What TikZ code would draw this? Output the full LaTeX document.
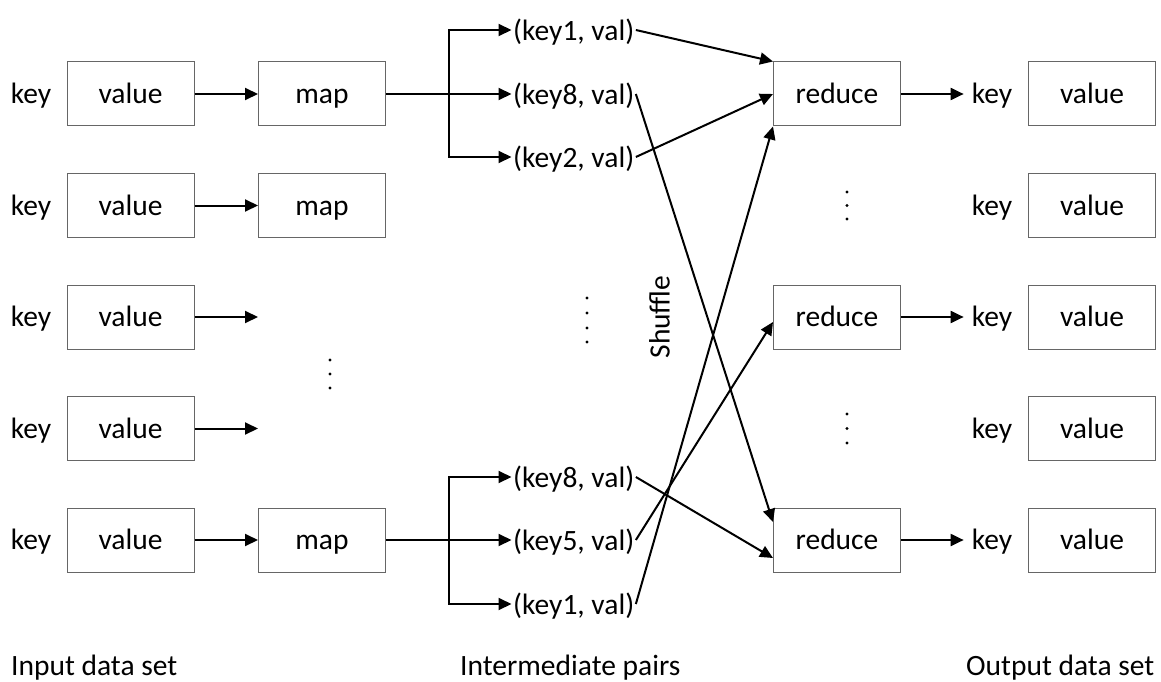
\documentclass[tikz,border=0pt]{standalone}
\usepackage{fontspec}
\setmainfont{Carlito}
\usetikzlibrary{arrows.meta,calc}
\begin{document}
\begin{tikzpicture}[x=1pt,y=-1pt,
  txt/.style={inner xsep=8pt, inner ysep=0pt, text height=19pt, text depth=0pt, font=\fontsize{29.5}{35}\selectfont},
  box/.style={draw=black!60, line width=1pt, minimum width=127pt, minimum height=64pt, inner sep=0pt,
              text height=19pt, text depth=0pt, font=\fontsize{29.5}{35}\selectfont},
  pair/.style={anchor=west, inner xsep=1.5pt, inner ysep=0pt, text height=21pt, text depth=0pt, font=\fontsize{29.5}{35}\selectfont},
  caption/.style={inner sep=0pt, anchor=base west, font=\fontsize{29.5}{35}\selectfont},
  ln/.style={line width=2pt, line join=miter},
  arr/.style={line width=2pt, line join=miter, -{Triangle[length=13pt,width=12pt]}},
  dot/.style={fill=black}
]
\useasboundingbox (0,0) rectangle (1161,682);

% input rows and output rows
\foreach \i/\y in {1/94,2/205.5,3/317,4/428.5,5/540}{
  \node[txt] (k\i) at (31,\y) {key};
  \node[box] (v\i) at (130.5,\y) {value};
  \node[txt] (ok\i) at (992,\y) {key};
  \node[box] (ov\i) at (1092,\y) {value};
}

% map boxes
\node[box] (m1) at (322,94) {map};
\node[box] (m2) at (322,205.5) {map};
\node[box] (m5) at (322,540) {map};

% free ends of rows 3 and 4
\coordinate (e3) at (258,317);
\coordinate (e4) at (258,428.5);

\draw[arr] (v1) -- (m1);
\draw[arr] (v2) -- (m2);
\draw[arr] (v3.east) -- (e3);
\draw[arr] (v4.east) -- (e4);
\draw[arr] (v5) -- (m5);

% intermediate pairs
\node[pair] (p11) at (511.5,30) {(key1, val)};
\node[pair] (p12) at (511.5,94) {(key8, val)};
\node[pair] (p13) at (511.5,157) {(key2, val)};
\node[pair] (p51) at (511.5,477) {(key8, val)};
\node[pair] (p52) at (511.5,540) {(key5, val)};
\node[pair] (p53) at (511.5,604) {(key1, val)};

\coordinate (b1) at (449,94);
\coordinate (b5) at (449,540);

\draw[arr] (m1.east) -- (b1) |- (p11.west);
\draw[arr] (m1.east) -- (p12.west);
\draw[arr] (b1) |- (p13.west);
\draw[arr] (m5.east) -- (b5) |- (p51.west);
\draw[arr] (m5.east) -- (p52.west);
\draw[arr] (b5) |- (p53.west);

% reduce boxes
\node[box] (r1) at (837,94) {reduce};
\node[box] (r3) at (837,317) {reduce};
\node[box] (r5) at (837,540) {reduce};

\draw[arr] (r1) -- (ok1);
\draw[arr] (r3) -- (ok3);
\draw[arr] (r5) -- (ok5);

% shuffle connectors
\draw[arr] (p11.east) -- (r1.north west);
\draw[arr] (p12.east) -- ($(r5.west)+(0,-18)$);
\draw[arr] (p13.east) -- (r1.west);
\draw[arr] (p51.east) -- ($(r5.west)+(0,18)$);
\draw[arr] (p52.east) -- ($(r3.west)+(0,5)$);
\draw[arr] (p53.east) -- (r1.south west);

\node[txt, rotate=90] (sh) at (660,317) {Shuffle};

% dots
\foreach \y in {360,374,388} \fill[dot] (330,\y) circle (1.7);
\foreach \y in {298,313,328,342} \fill[dot] (587,\y) circle (1.7);
\foreach \y in {192,205.5,219} \fill[dot] (847,\y) circle (1.7);
\foreach \y in {414,428.5,443} \fill[dot] (847,\y) circle (1.7);

% captions
\node[caption] (c1) at (11,675) {Input data set};
\node[caption] (c2) at (460,675) {Intermediate pairs};
\node[caption] (c3) at (966,675) {Output data set};
\end{tikzpicture}
\end{document}
